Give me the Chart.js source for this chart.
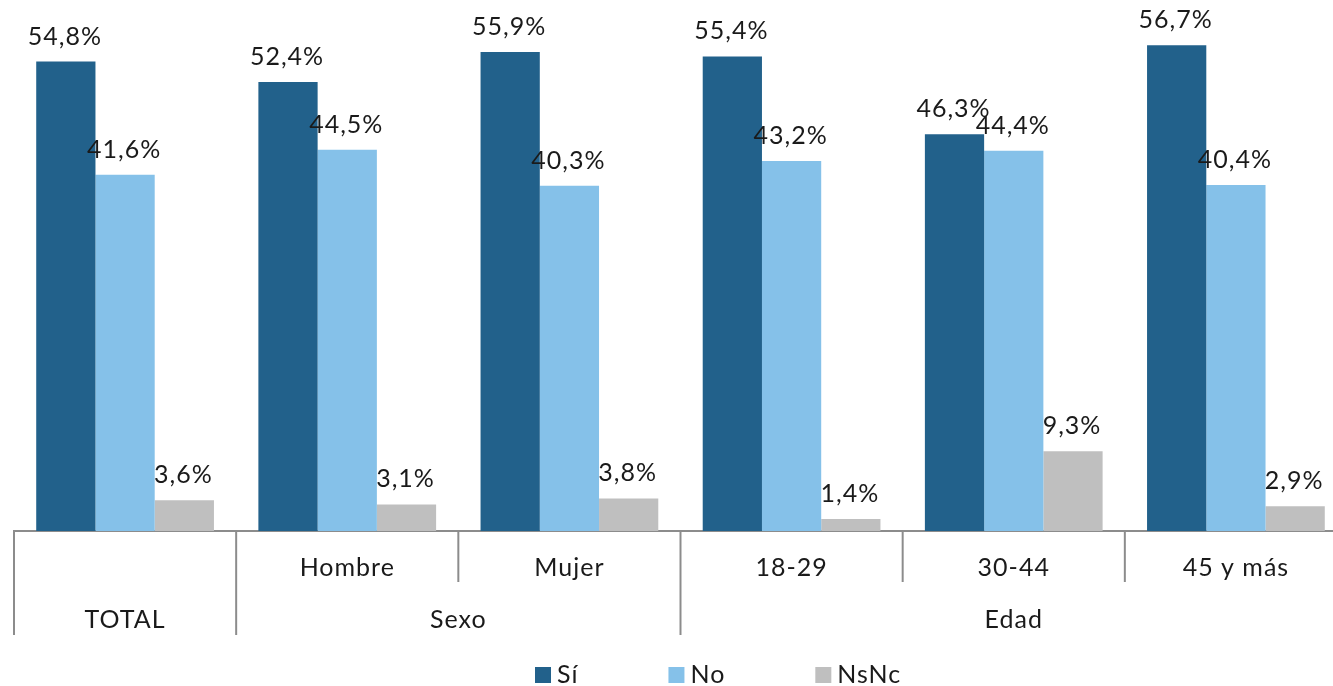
<!DOCTYPE html>
<html lang="es">
<head>
<meta charset="UTF-8">
<title>Sí / No / NsNc</title>
<script src="https://cdn.jsdelivr.net/npm/chart.js"></script>
<style>
    body {
        margin: 0;
        overflow: hidden;
        background: #fff;
    }
    .wrap {
        position: absolute;
        left: 0;
        top: 0;
        width: 1347px;
        height: 686px;
    }
</style>
</head>
<body>
<div class="wrap">
    <canvas id="chart"></canvas>
</div>
<script>
    // data
    const categories = ['TOTAL', 'Hombre', 'Mujer', '18-29', '30-44', '45 y más'];
    const subLabels = ['', 'Hombre', 'Mujer', '18-29', '30-44', '45 y más'];
    const groups = [
        { label: 'TOTAL', from: 0, to: 0 },
        { label: 'Sexo', from: 1, to: 2 },
        { label: 'Edad', from: 3, to: 5 }
    ];
    const si = [54.8, 52.4, 55.9, 55.4, 46.3, 56.7];
    const no = [41.6, 44.5, 40.3, 43.2, 44.4, 40.4];
    const nsnc = [3.6, 3.1, 3.8, 1.4, 9.3, 2.9];

    const FONT = 'Lato, "DejaVu Sans", sans-serif';
    const AXIS = '#8c8c8c';

    const fmt = v => v.toFixed(1).replace('.', ',') + '%';

    // value labels over bars
    const valueLabels = {
        id: 'valueLabels',
        afterDatasetsDraw(chart) {
            const ctx = chart.ctx;
            ctx.save();
            ctx.font = '25px ' + FONT;
            ctx.letterSpacing = '1px';
            ctx.fillStyle = '#1a1a1a';
            ctx.textAlign = 'center';
            ctx.textBaseline = 'alphabetic';
            chart.data.datasets.forEach((ds, i) => {
                chart.getDatasetMeta(i).data.forEach((bar, j) => {
                    ctx.fillText(fmt(ds.data[j]), bar.x - 1, bar.y - 17);
                });
            });
            ctx.restore();
        }
    };

    // two-level category axis + legend
    const groupAxis = {
        id: 'groupAxis',
        afterDraw(chart) {
            const ctx = chart.ctx;
            const x = chart.scales.x;
            const top = chart.chartArea.bottom;
            const half = (x.getPixelForValue(1) - x.getPixelForValue(0)) / 2;
            const edge = i => x.getPixelForValue(i) - half;

            ctx.save();
            ctx.strokeStyle = AXIS;
            ctx.lineWidth = 2;
            const groupEdges = new Set();
            groups.forEach(g => { groupEdges.add(g.from); groupEdges.add(g.to + 1); });
            for (let i = 0; i <= categories.length; i++) {
                const px = edge(i);
                const bottom = groupEdges.has(i) ? top + 104 : top + 51;
                ctx.beginPath();
                ctx.moveTo(px, top);
                ctx.lineTo(px, bottom);
                ctx.stroke();
            }

            ctx.font = '25px ' + FONT;
            ctx.letterSpacing = '1px';
            ctx.fillStyle = '#1a1a1a';
            ctx.textAlign = 'center';
            ctx.textBaseline = 'middle';
            subLabels.forEach((s, i) => {
                if (s) ctx.fillText(s, x.getPixelForValue(i), top + 37);
            });
            groups.forEach(g => {
                const cx = (edge(g.from) + edge(g.to + 1)) / 2;
                ctx.fillText(g.label, cx, top + 89);
            });

            // legend
            let lx = 535;
            const ly = 667;
            ctx.textAlign = 'left';
            chart.data.datasets.forEach(ds => {
                ctx.fillStyle = ds.backgroundColor;
                ctx.fillRect(lx, ly, 16, 16);
                ctx.fillStyle = '#1a1a1a';
                ctx.fillText(ds.label, lx + 22, ly + 8);
                lx += 22 + ctx.measureText(ds.label).width + 90;
            });
            ctx.restore();
        }
    };

    new Chart(document.getElementById('chart'), {
        type: 'bar',
        data: {
            labels: categories,
            datasets: [
                { label: 'Sí', data: si, backgroundColor: '#22618b' },
                { label: 'No', data: no, backgroundColor: '#85c1e9' },
                { label: 'NsNc', data: nsnc, backgroundColor: '#bfbfbf' }
            ]
        },
        options: {
            responsive: true,
            maintainAspectRatio: false,
            animation: false,
            layout: { padding: { left: 14, right: 0, top: 17, bottom: 0 } },
            datasets: { bar: { categoryPercentage: 0.8, barPercentage: 1.0 } },
            scales: {
                x: {
                    grid: { display: false },
                    border: { display: true, color: AXIS, width: 2 },
                    ticks: { display: false },
                    afterFit(scale) { scale.height = 155; }
                },
                y: {
                    display: false,
                    min: 0,
                    max: 60
                }
            },
            plugins: {
                legend: { display: false },
                tooltip: { enabled: false }
            }
        },
        plugins: [valueLabels, groupAxis]
    });
</script>
</body>
</html>
